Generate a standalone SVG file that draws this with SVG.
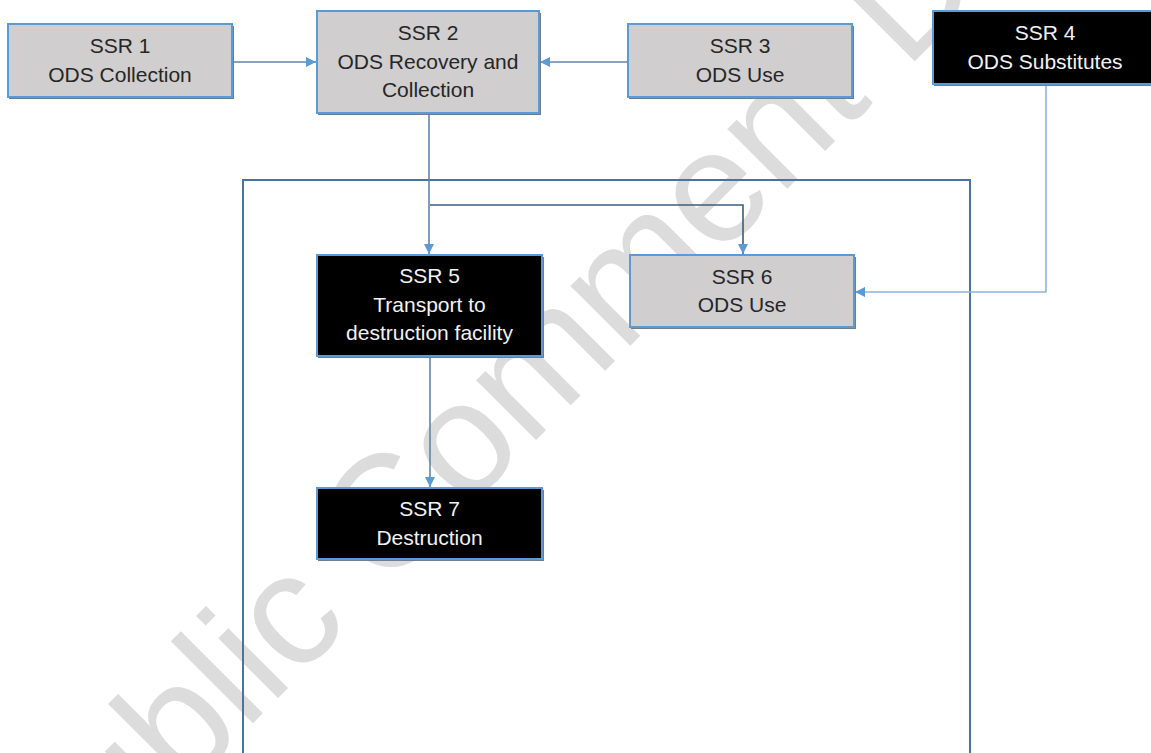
<svg xmlns="http://www.w3.org/2000/svg" width="1151" height="753" viewBox="0 0 1151 753">
<style>
.box{stroke:#5b9bd5;stroke-width:2}
.gray{fill:#d0cece}
.dark{fill:#000000}
.sh{fill:#6f7d8c}
.t{font-family:"Liberation Sans",Arial,sans-serif;font-size:21px;text-anchor:middle}
.tg{fill:#262626}
.tw{fill:#f2f2f2}
.conn{fill:none;stroke:#5f84ab;stroke-width:1.6}
.frame{fill:none;stroke:#4a74a0;stroke-width:2}
.wm{font-family:"Liberation Sans",Arial,sans-serif;font-size:160px;fill:#dcdcdc}
</style>
<defs>
<marker id="ah" markerUnits="userSpaceOnUse" markerWidth="12" markerHeight="12" refX="10" refY="6" orient="auto">
<path d="M0,1 L10,6 L0,11 Z" fill="#5b9bd5"/>
</marker>
</defs>
<rect width="1151" height="753" fill="#ffffff"/>
<text class="wm" transform="translate(44,932) rotate(-45)">Public Comment Draft</text>
<g id="frame">
<path class="frame" d="M243,760 L243,180 L970,180 L970,760"/>
</g>
<g id="connectors">
<line class="conn" x1="232" y1="62" x2="316" y2="62" marker-end="url(#ah)"/>
<line class="conn" x1="628" y1="62" x2="540" y2="62" marker-end="url(#ah)"/>
<line class="conn" x1="429" y1="113" x2="429" y2="254" marker-end="url(#ah)"/>
<path class="conn" d="M430,205 L743,205 L743,254" style="stroke:#3e5d7c" marker-end="url(#ah)"/>
<path class="conn" d="M1046,84 L1046,292 L855,292" style="stroke:#8fb4dc" marker-end="url(#ah)"/>
<line class="conn" x1="430" y1="356" x2="430" y2="487" marker-end="url(#ah)"/>
</g>
<g id="ssr1">
<rect class="sh" x="9" y="26" width="225" height="73"/>
<rect class="box gray" x="8" y="24" width="224" height="73"/>
<text class="t tg" x="120" y="53">SSR 1</text>
<text class="t tg" x="120" y="82">ODS Collection</text>
</g>
<g id="ssr2">
<rect class="sh" x="318" y="13" width="223" height="102"/>
<rect class="box gray" x="317" y="11" width="222" height="102"/>
<text class="t tg" x="428" y="40">SSR 2</text>
<text class="t tg" x="428" y="69">ODS Recovery and</text>
<text class="t tg" x="428" y="97">Collection</text>
</g>
<g id="ssr3">
<rect class="sh" x="629" y="26" width="225" height="73"/>
<rect class="box gray" x="628" y="24" width="224" height="73"/>
<text class="t tg" x="740" y="53">SSR 3</text>
<text class="t tg" x="740" y="82">ODS Use</text>
</g>
<g id="ssr4">
<rect class="sh" x="934" y="13" width="226" height="73"/>
<rect class="box dark" x="933" y="11" width="226" height="73"/>
<text class="t tw" x="1045" y="40">SSR 4</text>
<text class="t tw" x="1045" y="69">ODS Substitutes</text>
</g>
<g id="ssr5">
<rect class="sh" x="318" y="257" width="226" height="101"/>
<rect class="box dark" x="317" y="255" width="225" height="101"/>
<text class="t tw" x="429.5" y="283">SSR 5</text>
<text class="t tw" x="429.5" y="312">Transport to</text>
<text class="t tw" x="429.5" y="340">destruction facility</text>
</g>
<g id="ssr6">
<rect class="sh" x="631" y="257" width="225" height="72"/>
<rect class="box gray" x="630" y="255" width="224" height="72"/>
<text class="t tg" x="742" y="284">SSR 6</text>
<text class="t tg" x="742" y="312">ODS Use</text>
</g>
<g id="ssr7">
<rect class="sh" x="318" y="490" width="226" height="71"/>
<rect class="box dark" x="317" y="488" width="225" height="71"/>
<text class="t tw" x="429.5" y="516">SSR 7</text>
<text class="t tw" x="429.5" y="545">Destruction</text>
</g>
</svg>
